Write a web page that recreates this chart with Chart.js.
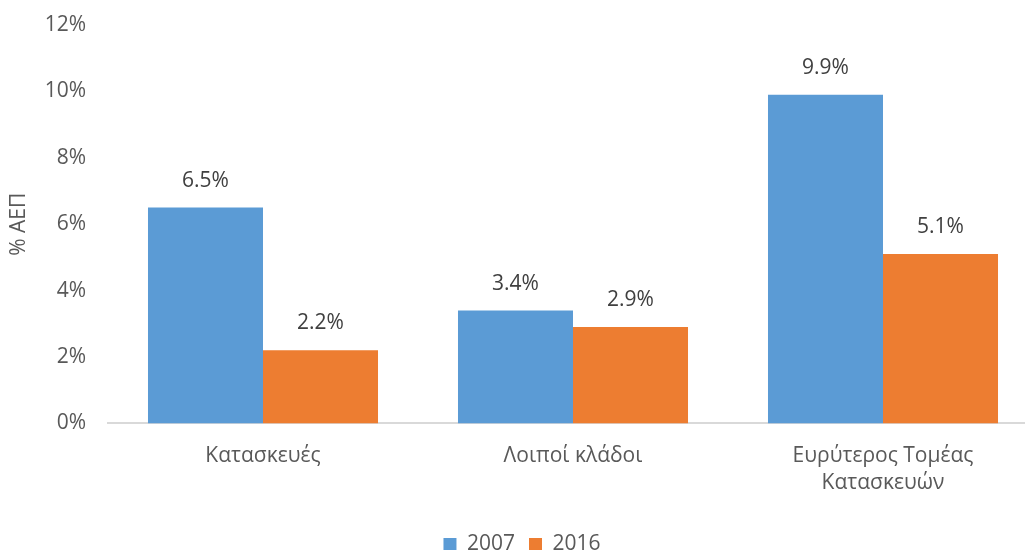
<!DOCTYPE html>
<html>
<head>
<meta charset="utf-8">
<script src="https://cdn.jsdelivr.net/npm/chart.js@4"></script>
<style>
  html, body { margin: 0; padding: 0; background: #fff; overflow: hidden; }
  #wrap { width: 1038px; height: 550px; }
</style>
</head>
<body>
<div id="wrap"><canvas id="barChart"></canvas></div>
<script>
const categories = ['Κατασκευές', 'Λοιποί κλάδοι', ['Ευρύτερος Τομέας', 'Κατασκευών']];
const series2007 = [6.5, 3.4, 9.9];
const series2016 = [2.2, 2.9, 5.1];
const seriesNames = ['2007', '2016'];
const yTicks = [0, 2, 4, 6, 8, 10, 12];

const FONT = "'Open Sans', 'Noto Sans', sans-serif";

// draw the value labels above each bar
const valueLabels = {
    id: 'valueLabels',
    afterLayout(chart) {
        // push the legend a little lower, as in the original
        chart.legend.top += 15;
        chart.legend.bottom += 15;
    },
    afterDatasetsDraw(chart) {
        const ctx = chart.ctx;
        ctx.save();
        ctx.font = '21px ' + FONT;
        ctx.fillStyle = '#404040';
        ctx.textAlign = 'center';
        ctx.textBaseline = 'middle';
        chart.data.datasets.forEach((ds, i) => {
            chart.getDatasetMeta(i).data.forEach((bar, j) => {
                ctx.fillText(ds.data[j].toFixed(1) + '%', bar.x, bar.y - 27);
            });
        });
        ctx.restore();
    }
};

const ctx = document.getElementById('barChart');

new Chart(ctx, {
    type: 'bar',
    data: {
        labels: categories,
        datasets: [
            { label: seriesNames[0], data: series2007, backgroundColor: '#5B9BD5' },
            { label: seriesNames[1], data: series2016, backgroundColor: '#ED7D31' }
        ]
    },
    options: {
        responsive: true,
        maintainAspectRatio: false,
        animation: false,
        layout: { autoPadding: false, padding: { top: 25, right: 0, left: 6, bottom: 0 } },
        datasets: { bar: { categoryPercentage: 0.742, barPercentage: 1.0 } },
        scales: {
            x: {
                grid: { display: false, drawTicks: false },
                border: { display: true, color: '#d9d9d9', width: 2 },
                ticks: { color: '#595959', font: { family: FONT, size: 21, lineHeight: 1.3 }, padding: 19 },
                afterFit(axis) { axis.height -= 11; }
            },
            y: {
                min: 0, max: 12,
                afterBuildTicks(axis) { axis.ticks = yTicks.map(v => ({ value: v })); },
                afterFit(axis) {
                    axis.width = 102;
                    // tick padding would otherwise push the plot top down
                    axis.paddingTop = 0;
                    axis.paddingBottom = 0;
                },
                grid: { display: false, drawTicks: false },
                border: { display: false },
                ticks: {
                    color: '#595959', font: { family: FONT, size: 21 }, padding: 22,
                    callback: v => v + '%'
                },
                title: { display: true, text: '% ΑΕΠ', color: '#595959', font: { family: FONT, size: 21 }, padding: { top: 0, bottom: 4 } }
            }
        },
        plugins: {
            legend: {
                position: 'bottom',
                labels: { color: '#595959', font: { family: FONT, size: 21 }, boxWidth: 13, boxHeight: 13, padding: 14 }
            },
            tooltip: { enabled: false }
        }
    },
    plugins: [valueLabels]
});
</script>
</body>
</html>
